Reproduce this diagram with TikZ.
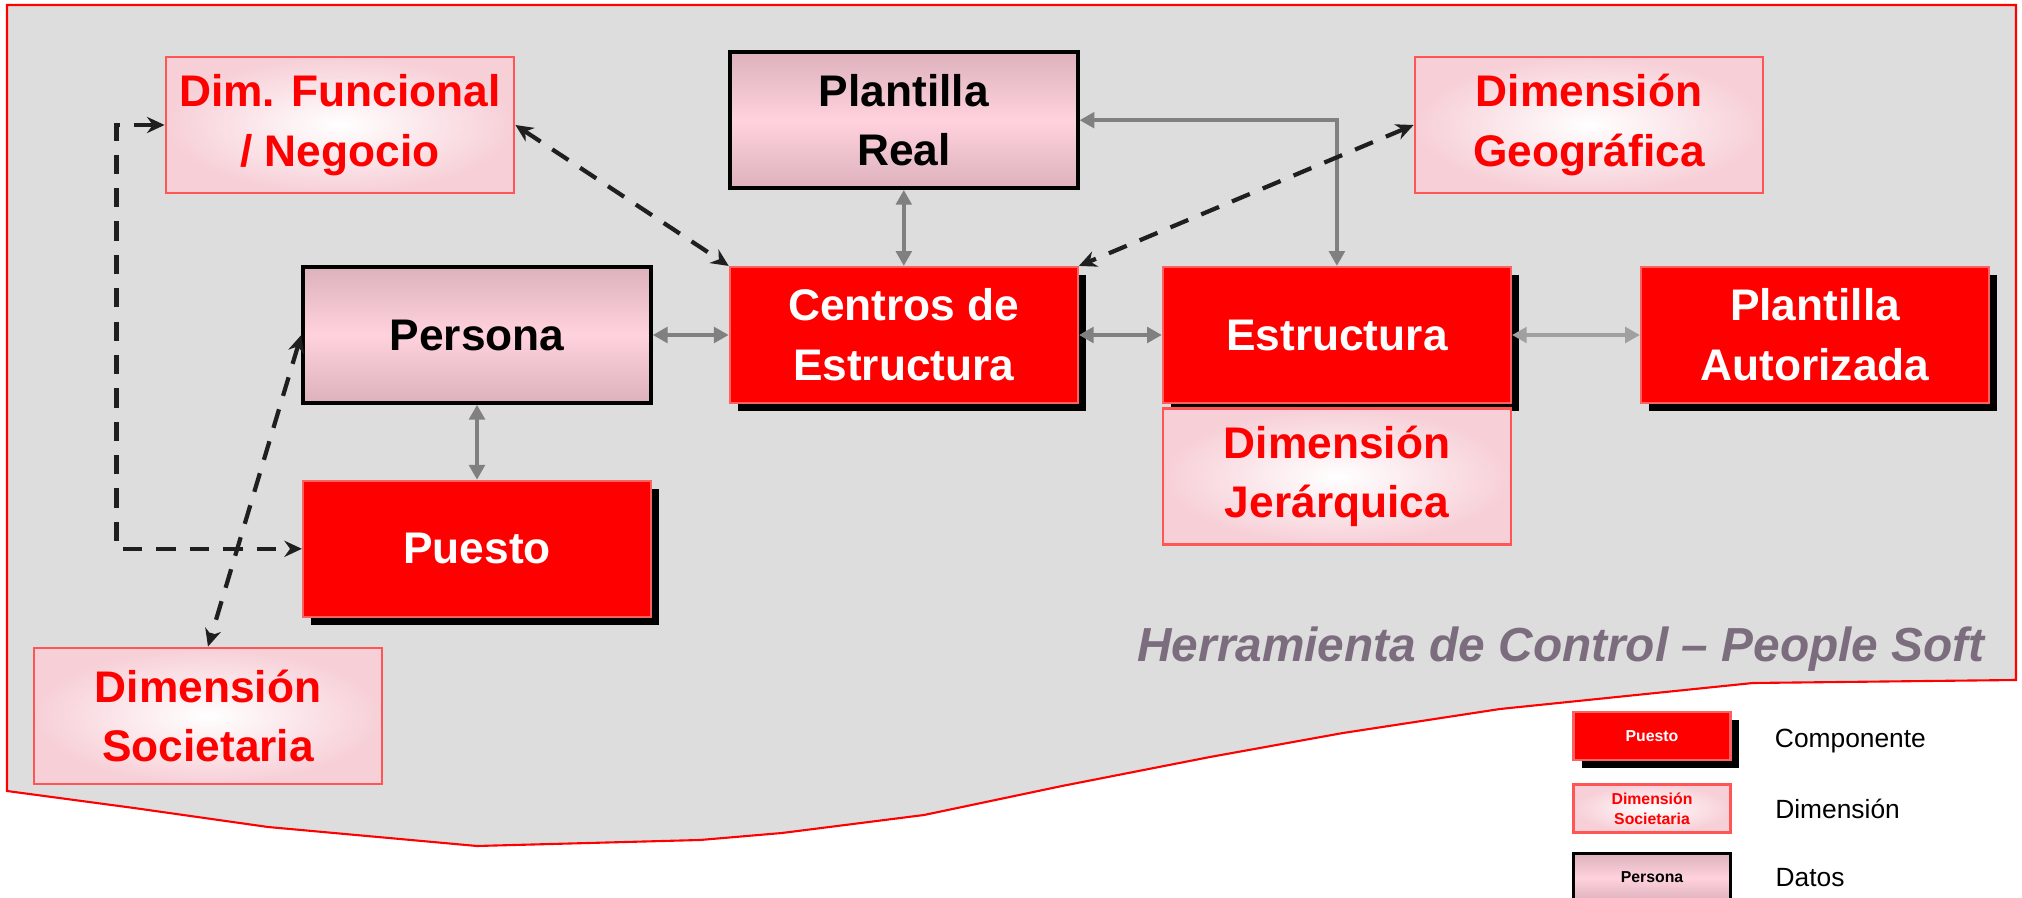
\documentclass[tikz,border=0pt]{standalone}
\usepackage{fontspec}
\setmainfont{Liberation Sans}
\usetikzlibrary{positioning,arrows.meta,shadows}
\definecolor{CompRed}{HTML}{FF0000}
\definecolor{CompEdge}{HTML}{FF6060}
\definecolor{DimPink}{HTML}{F7CFD7}
\definecolor{DimEdge}{HTML}{FF5555}
\definecolor{DatTop}{HTML}{DDB2BD}
\definecolor{DatMid}{HTML}{FFD2DD}
\definecolor{PanelGray}{HTML}{DDDDDD}
\definecolor{LinkGray}{HTML}{808080}
\definecolor{TitleGray}{HTML}{7B6D7D}
\newcommand{\boxfont}{\fontsize{12.6}{17}\selectfont\bfseries}
\newcommand{\legfont}{\fontsize{4.5}{5.6}\selectfont\bfseries}
\tikzset{
    box/.style = {rectangle, 
        minimum height=1.36cm, 
        minimum width=3.48cm, align=center, inner sep=2pt, font=\boxfont},
    comp/.style = {box, draw=CompEdge, fill=CompRed, text=white, line width=0.6pt,
        drop shadow={shadow xshift=0.08cm, shadow yshift=-0.08cm, fill=black, opacity=1}},
    dimen/.style = {box, draw=DimEdge, line width=0.8pt, text=red,
        inner color=white, outer color=DimPink},
    dat/.style = {box, draw=black, line width=1pt,
        top color=DatTop, bottom color=DatTop, middle color=DatMid},
    legbox/.style = {minimum height=0.48cm, minimum width=1.57cm, font=\legfont, inner sep=1pt},
    leglabel/.style = {anchor=west, font=\fontsize{7.5}{9}\selectfont},
    link/.style = {draw, LinkGray, line width=1.1pt,
        arrows={Triangle[length=4.2pt,width=4.4pt]-Triangle[length=4.2pt,width=4.4pt]}},
    dlink/.style = {draw, black!88, line width=1.2pt, dash pattern=on 5.5pt off 4pt,
        arrows={Stealth[length=5pt,width=4.6pt]-Stealth[length=5pt,width=4.6pt]}}
}

\begin{document}
\begin{tikzpicture}[auto, node distance=0.76cm]
            \useasboundingbox (0,0) rectangle (20.22,-8.98);
            \filldraw [fill=PanelGray, draw=red, line width=0.6pt] (0.07,-0.05) -- (20.16,-0.05) -- (20.16,-6.80)
                -- (17.53,-6.83) -- (15.00,-7.09) -- (13.43,-7.33) -- (12.10,-7.57) -- (10.62,-7.86)
                -- (9.24,-8.15) -- (7.82,-8.33) -- (7.00,-8.40) -- (4.77,-8.46) -- (2.68,-8.27)
                -- (1.34,-8.08) -- (0.07,-7.91) -- cycle;
            \node [dat] (persona) at (4.77,-3.35) {Persona};
            \node [comp, right=0.76cm of persona] (centros) {Centros de\\Estructura};
            \node [dat, above=0.76cm of centros] (real) {Plantilla\\Real};
            \node [comp, below=0.75cm of persona] (puesto) {Puesto};
            \node [comp, right=0.83cm of centros] (estr) {Estructura};
            \node [dimen, below=0.03cm of estr] (jerar) {Dimensión\\Jerárquica};
            \node [comp, right=1.28cm of estr] (autor) {Plantilla\\Autorizada};
            \node [dimen] (func) at (3.40,-1.25) {Dim. Funcional\\/ Negocio};
            \node [dimen] (geo) at (15.89,-1.25) {Dimensión\\Geográfica};
            \node [dimen] (soc) at (2.08,-7.16) {Dimensión\\Societaria};
            \draw [link] (persona) -- (centros);
            \draw [link] (real) -- (centros);
            \draw [link] (centros) -- (estr);
            \draw [link, color=LinkGray!75] (estr) -- (autor);
            \draw [link] (persona) -- (puesto);
            \draw [link] (real.east) -| (estr.north);
            \draw [dlink] (func.east) -- (centros.north west);
            \draw [dlink] (geo.west) -- (centros.north east);
            \draw [dlink] (func.west) -- ++(-0.48,0) |- (puesto.west);
            \draw [dlink] (persona.west) -- (soc.north);
            \node [anchor=east, text=TitleGray, font=\fontsize{13.6}{16}\selectfont\bfseries\itshape] (title)
                at (19.97,-6.49) {Herramienta de Control – People Soft};
            \node [comp, legbox] (lcomp) at (16.52,-7.36) {Puesto};
            \node [dimen, legbox, below=0.22cm of lcomp] (ldim) {Dimensión\\Societaria};
            \node [dat, legbox, below=0.18cm of ldim] (ldat) {Persona};
            \node [leglabel, right=0.31cm of lcomp, yshift=-0.05cm] (tcomp) {Componente};
            \node [leglabel, right=0.31cm of ldim] (tdim) {Dimensión};
            \node [leglabel, right=0.31cm of ldat] (tdat) {Datos};
        \end{tikzpicture}
\end{document}
